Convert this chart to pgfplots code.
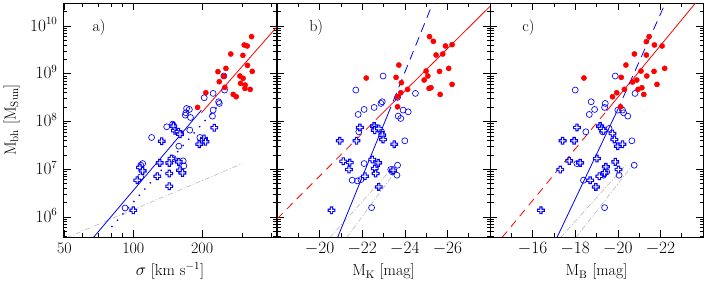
\documentclass[border=0pt]{standalone}
\usepackage{pgfplots}
\usepackage{pgfplotstable}
\pgfplotsset{compat=1.18}

% outlined cross mark (blue outline, white interior)
\pgfdeclareplotmark{ocross}{%
  \pgfpathrectangle{\pgfqpoint{-3.9pt}{-1.65pt}}{\pgfqpoint{7.8pt}{3.3pt}}%
  \pgfpathrectangle{\pgfqpoint{-1.65pt}{-3.9pt}}{\pgfqpoint{3.3pt}{7.8pt}}%
  \pgfsetfillcolor{blue}\pgfusepathqfill
  \pgfpathrectangle{\pgfqpoint{-2.75pt}{-0.55pt}}{\pgfqpoint{5.5pt}{1.1pt}}%
  \pgfpathrectangle{\pgfqpoint{-0.55pt}{-2.75pt}}{\pgfqpoint{1.1pt}{5.5pt}}%
  \pgfsetfillcolor{white}\pgfusepathqfill
}

% ---------- panel a: log sigma , log Mbh ----------
\pgfplotstableread[row sep=\\]{
x y\\
2.517 9.776\\ 2.485 9.601\\ 2.498 9.580\\ 2.426 9.412\\ 2.479 9.384\\
2.405 9.111\\ 2.370 9.042\\ 2.499 9.174\\ 2.520 9.048\\ 2.396 8.944\\
2.466 8.951\\ 2.480 8.902\\ 2.376 8.832\\ 2.400 8.713\\ 2.469 8.797\\
2.489 8.762\\ 2.488 8.692\\ 2.511 8.671\\ 2.317 8.601\\ 2.437 8.566\\
2.450 8.517\\ 2.281 8.293\\
}\aRed
\pgfplotstableread[row sep=\\]{
x y\\
2.396 8.951\\ 2.399 8.657\\ 2.349 8.587\\ 2.310 8.496\\ 2.373 8.412\\
2.376 8.377\\ 2.349 8.237\\ 2.346 8.111\\ 2.233 8.272\\ 2.245 8.251\\
2.230 8.181\\ 2.227 8.132\\ 2.250 8.083\\ 2.146 7.888\\ 2.172 7.944\\
2.192 7.783\\ 2.207 7.748\\ 2.247 7.818\\ 2.080 7.664\\ 2.199 7.482\\
2.291 7.664\\ 2.041 7.118\\ 2.033 7.083\\ 2.032 6.839\\ 2.175 7.223\\
2.218 7.174\\ 2.221 7.069\\ 1.964 6.188\\
}\aCirc
\pgfplotstableread[row sep=\\]{
x y\\
2.354 7.867\\ 2.309 7.643\\ 2.298 7.573\\ 2.316 7.573\\ 2.288 7.524\\
2.175 7.902\\ 2.182 7.804\\ 2.197 7.783\\ 2.204 7.734\\ 2.124 7.587\\
2.029 7.035\\ 2.041 6.965\\ 2.017 6.769\\ 2.105 6.853\\ 2.116 7.132\\
2.157 7.132\\ 2.167 7.223\\ 2.157 6.909\\ 2.199 7.153\\ 2.204 6.979\\
2.215 6.923\\ 2.157 6.643\\ 2.000 6.139\\
}\aCross

% ---------- panel b: M_K ----------
\pgfplotstableread[row sep=\\]{
x y\\
-25.16 9.776\\ -25.34 9.678\\ -25.91 9.580\\ -26.22 9.608\\ -25.47 9.391\\
-25.78 9.412\\ -23.72 9.181\\ -25.00 9.055\\ -25.08 8.951\\ -25.63 9.048\\
-26.06 9.111\\ -22.19 8.909\\ -23.59 8.923\\ -24.91 8.867\\ -23.84 8.811\\
-25.14 8.692\\ -25.23 8.706\\ -26.22 8.776\\ -25.66 8.566\\ -24.13 8.671\\
-23.81 8.601\\ -23.66 8.517\\ -23.66 8.307\\
}\bRed
\pgfplotstableread[row sep=\\]{
x y\\
-22.98 8.951\\ -21.70 8.657\\ -24.50 8.587\\ -23.66 8.503\\ -22.94 8.412\\
-22.88 8.377\\ -22.56 8.293\\ -22.09 8.251\\ -21.81 8.146\\ -23.92 8.237\\
-24.16 8.202\\ -23.69 8.111\\ -23.81 8.062\\ -21.84 7.783\\ -24.00 7.594\\
-22.09 7.118\\ -21.53 6.769\\ -21.78 6.755\\ -21.94 6.783\\ -22.44 6.195\\
-23.66 7.083\\ -23.63 6.874\\ -23.34 6.993\\ -23.41 6.944\\ -22.91 7.783\\
}\bCirc
\pgfplotstableread[row sep=\\]{
x y\\
-21.89 7.874\\ -22.56 7.902\\ -22.59 7.818\\ -22.78 7.853\\ -22.94 7.713\\
-22.98 7.622\\ -20.95 7.594\\ -21.73 7.594\\ -23.50 7.524\\ -21.11 7.167\\
-21.42 7.139\\ -21.38 6.993\\ -22.47 7.202\\ -22.75 7.132\\ -22.59 7.014\\
-22.63 6.909\\ -22.13 6.853\\ -23.45 6.979\\ -22.78 6.629\\ -20.56 6.139\\
}\bCross

% ---------- panel c: M_B ----------
\pgfplotstableread[row sep=\\]{
x y\\
-21.47 9.776\\ -21.34 9.671\\ -21.72 9.601\\ -22.08 9.580\\ -20.78 9.412\\
-21.34 9.391\\ -20.38 9.181\\ -22.20 9.111\\ -21.09 9.055\\ -21.70 9.048\\
-18.41 8.909\\ -20.16 8.923\\ -21.36 8.951\\ -20.89 8.867\\ -20.69 8.825\\
-21.84 8.776\\ -21.13 8.706\\ -20.95 8.671\\ -20.31 8.671\\ -19.95 8.601\\
-21.22 8.566\\ -19.75 8.517\\ -20.13 8.307\\
}\cRed
\pgfplotstableread[row sep=\\]{
x y\\
-19.88 8.951\\ -18.00 8.657\\ -20.81 8.587\\ -18.75 8.412\\ -19.41 8.377\\
-19.38 8.293\\ -18.91 8.251\\ -18.66 8.146\\ -20.00 8.237\\ -20.22 8.237\\
-20.27 8.181\\ -20.47 8.111\\ -19.59 7.853\\ -18.50 7.783\\ -20.66 7.594\\
-18.08 7.118\\ -20.77 7.083\\ -20.06 6.874\\ -19.38 6.195\\ -18.39 6.769\\
-19.28 7.783\\ -19.48 6.944\\ -19.33 6.874\\
}\cCirc
\pgfplotstableread[row sep=\\]{
x y\\
-18.08 7.874\\ -17.41 7.594\\ -17.95 7.594\\ -19.17 7.902\\ -19.25 7.853\\
-19.33 7.804\\ -19.75 7.748\\ -19.84 7.622\\ -20.00 7.482\\ -20.22 7.524\\
-19.02 7.223\\ -17.72 7.174\\ -18.23 7.132\\ -17.30 6.993\\ -19.88 7.153\\
-19.44 7.049\\ -20.03 6.993\\ -19.13 6.853\\ -19.38 6.923\\ -18.70 6.769\\
-18.97 6.629\\ -16.39 6.139\\
}\cCross

\pgfplotsset{
  panel/.style={
    width=213pt, height=234pt, scale only axis,
    ymin=5.58, ymax=10.48,
    ytick={6,7,8,9,10},
    minor ytick={5.602,5.699,5.778,5.845,5.903,5.954,
      6.301,6.477,6.602,6.699,6.778,6.845,6.903,6.954,
      7.301,7.477,7.602,7.699,7.778,7.845,7.903,7.954,
      8.301,8.477,8.602,8.699,8.778,8.845,8.903,8.954,
      9.301,9.477,9.602,9.699,9.778,9.845,9.903,9.954,
      10.301,10.477},
    tick align=inside,
    major tick length=7pt, minor tick length=3.5pt,
    every tick/.style={black, line width=0.6pt},
    axis line style={line width=0.8pt},
    tick label style={font=\fontsize{16}{18}\selectfont},
    xticklabel style={anchor=base, yshift=-17pt},
    yticklabel style={anchor=base east, yshift=-5.2pt, xshift=-2.5pt},
    every axis x label/.style={at={(axis description cs:0.5,0)}, anchor=base, yshift=-38.5pt,
      font=\fontsize{16}{18}\selectfont},
    every axis y label/.style={at={(axis description cs:-0.244,0.5)}, rotate=90, anchor=center,
      font=\fontsize{16}{18}\selectfont},
    anchor=south west,
  },
  redpts/.style={only marks, mark=*, mark size=2.6pt, color=red,
    mark options={draw=red, fill=red}},
  circ/.style={only marks, mark=o, mark size=3pt, color=blue,
    mark options={draw=blue, line width=0.65pt}},
  crosspts/.style={only marks, mark=ocross, color=blue},
  fitline/.style={line width=0.8pt, no marks},
  grayline/.style={no marks, color=black!28, line width=0.6pt, dash pattern=on 5pt off 2pt on 1pt off 2pt},
}

\begin{document}
\begin{tikzpicture}
\useasboundingbox (0,0) rectangle (704pt,281pt);

% ================= a =================
\begin{axis}[panel, at={(63.5pt,44pt)},
  xmin=1.695, xmax=2.626,
  xtick={1.69897,2,2.30103}, xticklabels={50,100,200},
  minor xtick={1.778,1.845,1.903,1.954,2.477,2.602},
  yticklabels={$10^{6}$,$10^{7}$,$10^{8}$,$10^{9}$,$10^{10}$},
  xlabel={$\sigma$ [km s$^{-1}$]},
  ylabel={M$_\mathrm{bh}$ [M$_\mathrm{Sun}$]},
]
\addplot[grayline] coordinates {(1.709,5.566) (2.477,7.118)};
\addplot[fitline, blue] coordinates {(1.825,5.566) (2.298,8.237)};
\addplot[no marks, blue, line width=1.4pt, dash pattern=on 1.3pt off 7pt] coordinates {(1.905,5.790) (2.386,8.412)};
\addplot[fitline, red] coordinates {(2.298,8.181) (2.626,9.972)};
\addplot[circ] table {\aCirc};
\addplot[crosspts] table {\aCross};
\addplot[redpts] table {\aRed};
\node[anchor=west, font=\fontsize{16}{18}\selectfont] at (rel axis cs:0.12,0.897) {a)};
\end{axis}

% ================= b =================
\begin{axis}[panel, at={(277pt,44pt)},
  xmin=-28, xmax=-18, x dir=reverse,
  xtick={-26,-24,-22,-20},
  minor xtick={-27,-25,-23,-21,-19},
  yticklabels={},
  xlabel={M$_\mathrm{K}$ [mag]},
]
\addplot[grayline] coordinates {(-20.48,5.566) (-23.53,7.083)};
\addplot[grayline] coordinates {(-21.27,5.566) (-23.72,7.048)};
\addplot[fitline, red, dash pattern=on 8pt off 6pt] coordinates {(-18,5.96) (-22.67,8.049)};
\addplot[fitline, red] coordinates {(-22.67,8.049) (-28,10.41)};
\addplot[fitline, blue] coordinates {(-20.84,5.566) (-23.19,8.132)};
\addplot[fitline, blue, dash pattern=on 9pt off 6pt] coordinates {(-23.19,8.132) (-25.375,10.545)};
\addplot[circ] table {\bCirc};
\addplot[crosspts] table {\bCross};
\addplot[redpts] table {\bRed};
\node[anchor=west, font=\fontsize{16}{18}\selectfont] at (rel axis cs:0.135,0.897) {b)};
\end{axis}

% ================= c =================
\begin{axis}[panel, at={(490pt,44pt)},
  xmin=-24, xmax=-14, x dir=reverse,
  xtick={-22,-20,-18,-16},
  minor xtick={-23,-21,-19,-17,-15},
  yticklabels={},
  xlabel={M$_\mathrm{B}$ [mag]},
]
\addplot[grayline] coordinates {(-17.31,5.566) (-20.44,7.118)};
\addplot[grayline] coordinates {(-18.03,5.566) (-20.69,7.083)};
\addplot[fitline, red, dash pattern=on 8pt off 6pt] coordinates {(-14.56,5.566) (-19.48,8.223)};
\addplot[fitline, red] coordinates {(-19.48,8.223) (-23.85,10.59)};
\addplot[fitline, blue] coordinates {(-17.14,5.566) (-19.95,8.202)};
\addplot[fitline, blue, dash pattern=on 9pt off 6pt] coordinates {(-19.95,8.202) (-22.30,10.545)};
\addplot[circ] table {\cCirc};
\addplot[crosspts] table {\cCross};
\addplot[redpts] table {\cRed};
\node[anchor=west, font=\fontsize{16}{18}\selectfont] at (rel axis cs:0.135,0.897) {c)};
\end{axis}
\end{tikzpicture}
\end{document}
